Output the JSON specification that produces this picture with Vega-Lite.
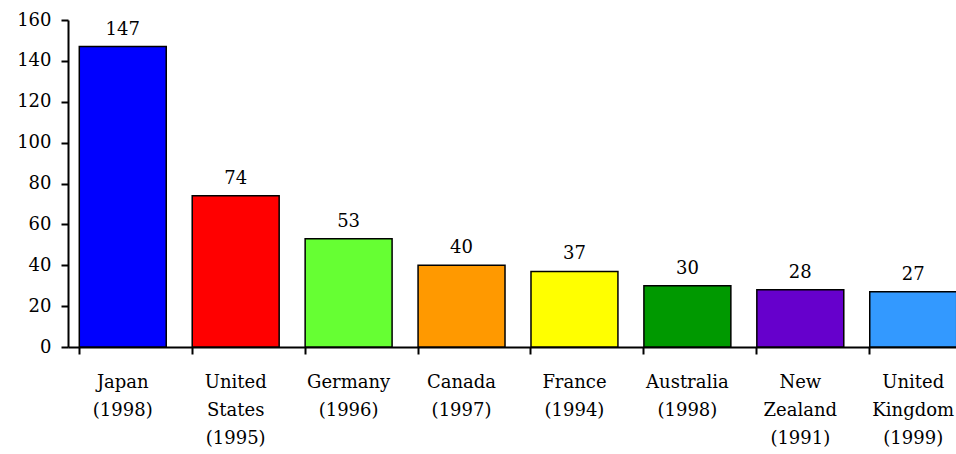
{
  "$schema": "https://vega.github.io/schema/vega-lite/v6.json",
  "width": 888,
  "height": 327,
  "autosize": {"type": "none"},
  "padding": {"left": 68, "top": 20, "right": 0, "bottom": 107},
  "background": "white",
  "config": {"view": {"stroke": null}, "font": "DejaVu Serif"},
  "data": {
    "values": [
      {"country": "Japan|(1998)", "value": 147, "color": "#0000FF"},
      {"country": "United|States|(1995)", "value": 74, "color": "#FF0000"},
      {"country": "Germany|(1996)", "value": 53, "color": "#66FF33"},
      {"country": "Canada|(1997)", "value": 40, "color": "#FF9900"},
      {"country": "France|(1994)", "value": 37, "color": "#FFFF00"},
      {"country": "Australia|(1998)", "value": 30, "color": "#009900"},
      {"country": "New|Zealand|(1991)", "value": 28, "color": "#6600CC"},
      {"country": "United|Kingdom|(1999)", "value": 27, "color": "#3399FF"}
    ]
  },
  "encoding": {
    "x": {
      "field": "country",
      "type": "nominal",
      "sort": null,
      "scale": {"range": [0, 900], "paddingInner": 0.23, "paddingOuter": 0.1},
      "axis": {
        "title": null,
        "labelAngle": 0,
        "labelExpr": "split(datum.label, '|')",
        "labelFont": "DejaVu Serif",
        "labelFontSize": 18,
        "labelLineHeight": 28,
        "labelColor": "black",
        "labelPadding": 19,
        "labelBaseline": "top",
        "bandPosition": 0,
        "tickColor": "black",
        "tickSize": 7,
        "tickWidth": 2,
        "domainColor": "black",
        "domainWidth": 2,
        "labelLimit": 200
      }
    },
    "y": {
      "field": "value",
      "type": "quantitative",
      "scale": {"domain": [0, 160], "nice": false},
      "axis": {
        "title": null,
        "values": [0, 20, 40, 60, 80, 100, 120, 140, 160],
        "grid": false,
        "labelFont": "DejaVu Serif",
        "labelFontSize": 18,
        "labelColor": "black",
        "labelPadding": 10,
        "tickColor": "black",
        "tickSize": 7,
        "tickWidth": 2,
        "domainColor": "black",
        "domainWidth": 2
      }
    }
  },
  "layer": [
    {
      "mark": {"type": "bar", "stroke": "black", "strokeWidth": 1.5, "clip": false},
      "encoding": {
        "color": {"field": "color", "type": "nominal", "scale": null}
      }
    },
    {
      "mark": {"type": "text", "dy": -8, "baseline": "bottom", "font": "DejaVu Serif", "fontSize": 18, "color": "black"},
      "encoding": {"text": {"field": "value", "type": "quantitative"}}
    }
  ]
}
